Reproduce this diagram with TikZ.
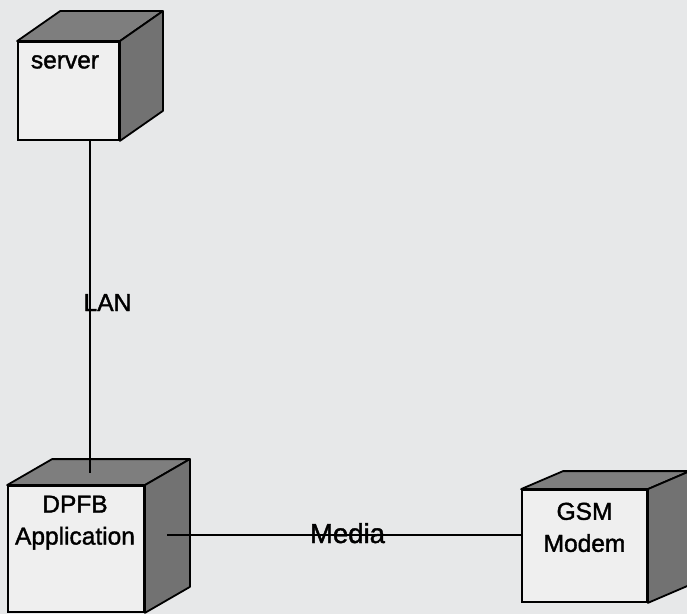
\documentclass[tikz,border=0pt]{standalone}
\usepackage{fontspec}
\setmainfont{Liberation Sans}[FakeBold=1.5]
\usetikzlibrary{calc}
\definecolor{paper}{HTML}{E7E8E9}
\definecolor{facefront}{HTML}{EFEFEF}
\definecolor{facetop}{HTML}{7E7E7E}
\definecolor{faceright}{HTML}{727272}
\tikzset{
  x=1bp, y=-1bp,
  frontface/.style={draw, line width=1.8bp, fill=facefront, rectangle, inner sep=0pt},
  topface/.style={draw, line width=1.8bp, fill=facetop, line join=round},
  rightface/.style={draw, line width=1.8bp, fill=faceright, line join=round},
  lbl/.style={font=\fontsize{24.5bp}{32bp}\selectfont, align=center, anchor=north, inner sep=0pt},
  link/.style={line width=1.4bp},
}
% shaded top and right faces of a UML node box
\newcommand\boxfaces[3]{%
  \draw[topface] (#1.north west) -- ++(#2,#3) -- ($(#1.north east)+(#2,#3)$) -- (#1.north east) -- cycle;
  \draw[rightface] (#1.north east) -- ++(#2,#3) -- ($(#1.south east)+(#2,#3)$) -- (#1.south east) -- cycle;
}
\begin{document}
\begin{tikzpicture}
  \fill[paper] (0,0) rectangle (687,614);
  \useasboundingbox (0,0) rectangle (687,614);

  % front faces
  \node[frontface, minimum width=101bp, minimum height=98bp] (server) at (68.5,91) {};
  \node[frontface, minimum width=136bp, minimum height=126bp] (dpfb) at (76,549) {};
  \node[frontface, minimum width=125bp, minimum height=112bp] (gsm) at (584.5,546) {};

  \boxfaces{server}{43}{-30}
  \boxfaces{dpfb}{45}{-26}
  \boxfaces{gsm}{42}{-18}

  % names
  \node[lbl] (serverlbl) at (65,55) {server};
  \node[lbl] (dpfblbl) at (75,495.5) {DPFB\\Application};
  \node[lbl] (gsmlbl) at (584.5,502.5) {GSM\\Modem};

  % connectors
  \coordinate (dpfbtop) at (90,473);
  \coordinate (dpfbside) at (167,535);
  \draw[link] (server.south -| dpfbtop) -- (dpfbtop);
  \draw[link] (dpfbside) -- (dpfbside -| gsm.west);

  \node[lbl, anchor=base] (lan) at (107.5,311) {LAN};
  \node[lbl, anchor=base, font=\fontsize{27.5bp}{32bp}\selectfont] (media) at (347.5,543) {Media};
\end{tikzpicture}
\end{document}
